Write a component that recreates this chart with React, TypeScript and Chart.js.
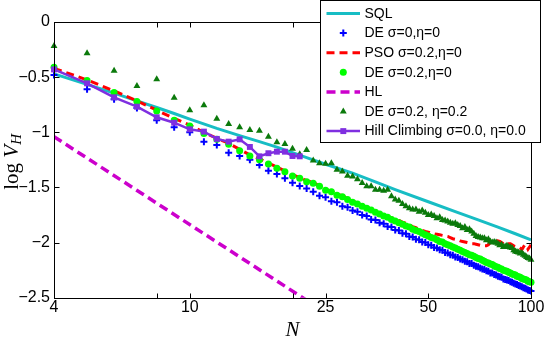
import { useEffect, useRef } from "react";
import { Chart, registerables } from "chart.js";

Chart.register(...registerables);

// ---------- data ----------
const nValues = [
  4, 5, 6, 7, 8, 9, 10, 11, 12, 13,
  14, 15, 16, 17, 18, 19, 20, 21, 22, 23,
  24, 25, 26, 27, 28, 29, 30, 31, 32, 33,
  34, 35, 36, 37, 38, 39, 40, 41, 42, 43,
  44, 45, 46, 47, 48, 49, 50, 51, 52, 53,
  54, 55, 56, 57, 58, 59, 60, 61, 62, 63,
  64, 65, 66, 67, 68, 69, 70, 71, 72, 73,
  74, 75, 76, 77, 78, 79, 80, 81, 82, 83,
  84, 85, 86, 87, 88, 89, 90, 91, 92, 93,
  94, 95, 96, 97, 98, 99, 100,
];

const sqlN = [4, 5, 6, 7, 8, 9, 10, 12, 14, 16, 18, 20, 22, 25, 30, 35, 40, 50, 60, 70, 80, 90, 100];
const sqlValues = [
  -0.47, -0.565, -0.645, -0.715, -0.775, -0.83, -0.88, -0.965, -1.03, -1.085, -1.135, -1.185,
  -1.23, -1.29, -1.37, -1.45, -1.52, -1.63, -1.72, -1.795, -1.86, -1.92, -1.975,
];

const deSigma0 = [
  -0.48, -0.61, -0.70, -0.78, -0.89, -0.955, -1.0, -1.085, -1.115, -1.185,
  -1.215, -1.25, -1.296, -1.348, -1.378, -1.417, -1.457, -1.487, -1.51, -1.54,
  -1.575, -1.59, -1.625, -1.635, -1.67, -1.68, -1.71, -1.72, -1.75, -1.76,
  -1.79, -1.795, -1.82, -1.83, -1.855, -1.86, -1.885, -1.89, -1.915, -1.92,
  -1.945, -1.95, -1.97, -1.975, -1.995, -2.0, -2.02, -2.025, -2.045, -2.05,
  -2.065, -2.07, -2.09, -2.095, -2.11, -2.115, -2.13, -2.135, -2.15, -2.155,
  -2.17, -2.175, -2.19, -2.19, -2.205, -2.215, -2.22, -2.23, -2.24, -2.245,
  -2.255, -2.26, -2.275, -2.275, -2.29, -2.295, -2.305, -2.31, -2.315, -2.33,
  -2.335, -2.34, -2.345, -2.355, -2.36, -2.37, -2.375, -2.38, -2.39, -2.395,
  -2.40, -2.41, -2.415, -2.42, -2.43, -2.435, -2.44,
];

const psoValues = [
  -0.42, -0.525, -0.625, -0.715, -0.80, -0.875, -0.935, -1.0, -1.055, -1.10,
  -1.155, -1.205, -1.24, -1.28, -1.315, -1.35, -1.385, -1.41, -1.44, -1.455,
  -1.485, -1.515, -1.535, -1.56, -1.575, -1.60, -1.625, -1.64, -1.66, -1.68,
  -1.695, -1.715, -1.735, -1.75, -1.765, -1.775, -1.79, -1.80, -1.815, -1.825,
  -1.84, -1.855, -1.865, -1.88, -1.89, -1.90, -1.905, -1.915, -1.92, -1.925,
  -1.93, -1.935, -1.94, -1.945, -1.955, -1.965, -1.97, -1.975, -1.985, -1.99,
  -1.995, -2.0, -2.005, -2.01, -2.01, -2.015, -2.02, -2.025, -2.03, -2.03,
  -2.03, -2.02, -2.0, -1.99, -1.985, -1.98, -1.985, -1.99, -2.0, -2.01,
  -2.02, -2.02, -2.01, -2.01, -2.02, -2.03, -2.035, -2.04, -2.04, -2.05,
  -2.065, -2.04, -2.02, -2.03, -2.06, -2.04, -2.02,
];

const deSigma02 = [
  -0.41, -0.53, -0.64, -0.72, -0.807, -0.89, -0.943, -1.01, -1.064, -1.109,
  -1.167, -1.215, -1.25, -1.287, -1.327, -1.357, -1.396, -1.417, -1.448, -1.463,
  -1.49, -1.525, -1.54, -1.57, -1.585, -1.61, -1.635, -1.65, -1.67, -1.69,
  -1.705, -1.725, -1.74, -1.76, -1.77, -1.79, -1.805, -1.82, -1.835, -1.85,
  -1.86, -1.88, -1.89, -1.90, -1.915, -1.93, -1.94, -1.955, -1.96, -1.975,
  -1.99, -1.995, -2.01, -2.02, -2.03, -2.04, -2.05, -2.06, -2.07, -2.08,
  -2.09, -2.10, -2.11, -2.115, -2.125, -2.135, -2.145, -2.15, -2.16, -2.17,
  -2.18, -2.185, -2.195, -2.20, -2.21, -2.22, -2.225, -2.235, -2.24, -2.25,
  -2.255, -2.26, -2.27, -2.275, -2.285, -2.29, -2.295, -2.305, -2.31, -2.315,
  -2.325, -2.33, -2.335, -2.34, -2.35, -2.355, -2.36,
];

const hlN = [4, 100];
const hlValues = [-1.04, -3.84];

const deSigma02Eta02 = [
  -0.218, -0.284, -0.441, -0.58, -0.52, -0.686, -0.80, -0.755, -0.877, -0.925,
  -0.955, -0.98, -0.985, -1.04, -1.09, -1.106, -1.15, -1.20, -1.16, -1.255,
  -1.28, -1.285, -1.28, -1.34, -1.355, -1.395, -1.40, -1.425, -1.46, -1.49,
  -1.49, -1.52, -1.52, -1.53, -1.52, -1.58, -1.61, -1.62, -1.65, -1.67,
  -1.69, -1.70, -1.70, -1.72, -1.71, -1.73, -1.75, -1.745, -1.76, -1.78,
  -1.77, -1.795, -1.80, -1.81, -1.82, -1.83, -1.825, -1.84, -1.85, -1.87,
  -1.86, -1.885, -1.88, -1.90, -1.92, -1.94, -1.95, -1.955, -1.96, -1.96,
  -1.98, -1.97, -1.99, -2.0, -1.995, -2.0, -2.01, -2.025, -2.02, -2.04,
  -2.035, -2.03, -2.04, -2.045, -2.05, -2.07, -2.08, -2.085, -2.09, -2.10,
  -2.095, -2.11, -2.12, -2.13, -2.14, -2.145, -2.155,
];

const hillClimbingN = [4, 5, 6, 7, 8, 9, 10, 11, 12, 13, 14, 15, 16, 17, 18, 19, 20, 21];
const hillClimbing = [
  -0.43, -0.556, -0.683, -0.768, -0.864, -0.913, -0.973, -0.994, -1.06, -1.085,
  -1.064, -1.133, -1.218, -1.19, -1.176, -1.176, -1.215, -1.218,
];

const xTickValues = [4, 8, 10, 20, 25, 50, 100];
const xTickLabels = ["4", "", "10", "", "25", "50", "100"];
const yTickValues = [-2.5, -2, -1.5, -1, -0.5, 0];
const yTickLabels = ["\u22122.5", "\u22122", "\u22121.5", "\u22121", "\u22120.5", "0"];

const seriesLabels = [
  "SQL",
  "DE \u03c3=0,\u03b7=0",
  "PSO \u03c3=0.2,\u03b7=0",
  "DE \u03c3=0.2,\u03b7=0",
  "HL",
  "DE \u03c3=0.2, \u03b7=0.2",
  "Hill Climbing \u03c3=0.0, \u03b7=0.0",
];

const SANS = '"Liberation Sans", Arial, Helvetica, sans-serif';
const SERIF = '"Liberation Serif", "DejaVu Serif", serif';

const toPoints = (xs: number[], ys: number[]) => ys.map((y, i) => ({ x: xs[i], y }));

function drawMarker(ctx: CanvasRenderingContext2D, style: string, x: number, y: number, r: number, color: string, bw: number) {
  ctx.save();
  ctx.fillStyle = color;
  ctx.strokeStyle = color;
  ctx.lineWidth = bw;
  ctx.setLineDash([]);
  ctx.beginPath();
  if (style === "cross") {
    ctx.moveTo(x - r, y);
    ctx.lineTo(x + r, y);
    ctx.moveTo(x, y - r);
    ctx.lineTo(x, y + r);
    ctx.stroke();
  } else if (style === "circle") {
    ctx.arc(x, y, r, 0, Math.PI * 2);
    ctx.fill();
  } else if (style === "triangle") {
    let a = 0;
    ctx.moveTo(x + Math.sin(a) * r, y - Math.cos(a) * r);
    a += (2 * Math.PI) / 3;
    ctx.lineTo(x + Math.sin(a) * r, y - Math.cos(a) * r);
    a += (2 * Math.PI) / 3;
    ctx.lineTo(x + Math.sin(a) * r, y - Math.cos(a) * r);
    ctx.closePath();
    ctx.fill();
  } else if (style === "rect") {
    const s = r * Math.SQRT1_2;
    ctx.rect(x - s, y - s, 2 * s, 2 * s);
    ctx.fill();
  }
  ctx.restore();
}

const framePlugin = {
  id: "frame",
  afterDraw(chart: any) {
    const ctx: CanvasRenderingContext2D = chart.ctx;
    const { left, right, top, bottom } = chart.chartArea;
    const xs = chart.scales.x;
    const ys = chart.scales.y;
    ctx.save();
    ctx.strokeStyle = "#000";
    ctx.lineWidth = 1;
    ctx.setLineDash([]);
    const L = Math.round(left) + 0.5;
    const R = Math.round(right) + 0.5;
    const T = Math.round(top) + 0.5;
    const B = Math.round(bottom) + 0.5;
    ctx.strokeRect(L, T, R - L, B - T);
    const tl = 5;
    ctx.beginPath();
    for (const t of xs.ticks) {
      const px = Math.round(xs.getPixelForValue(t.value)) + 0.5;
      ctx.moveTo(px, B);
      ctx.lineTo(px, B - tl);
      ctx.moveTo(px, T);
      ctx.lineTo(px, T + tl);
    }
    for (const t of ys.ticks) {
      const py = Math.round(ys.getPixelForValue(t.value)) + 0.5;
      ctx.moveTo(L, py);
      ctx.lineTo(L + tl, py);
      ctx.moveTo(R, py);
      ctx.lineTo(R - tl, py);
    }
    ctx.stroke();

    // axis titles
    ctx.fillStyle = "#000";
    ctx.textBaseline = "alphabetic";
    ctx.textAlign = "left";
    ctx.font = `21px ${SERIF}`;
    const wLog = ctx.measureText("log ").width;
    ctx.font = `italic 21px ${SERIF}`;
    const wV = ctx.measureText("V").width;
    ctx.font = `italic 15px ${SERIF}`;
    const wH = ctx.measureText("H").width;
    const total = wLog + wV + wH;
    ctx.save();
    ctx.translate(18, (top + bottom) / 2 + 2);
    ctx.rotate(-Math.PI / 2);
    const s0 = -total / 2;
    ctx.font = `21px ${SERIF}`;
    ctx.fillText("log", s0, 0);
    ctx.font = `italic 21px ${SERIF}`;
    ctx.fillText("V", s0 + wLog, 0);
    ctx.font = `italic 15px ${SERIF}`;
    ctx.fillText("H", s0 + wLog + wV, 3);
    ctx.restore();

    ctx.font = `italic 21px ${SERIF}`;
    ctx.textAlign = "center";
    ctx.fillText("N", (left + right) / 2, 336);

    // legend
    const bx = 320.5, by = 0.5, bw = 220, bh = 142;
    ctx.fillStyle = "#fff";
    ctx.fillRect(bx, by, bw, bh);
    ctx.strokeStyle = "#000";
    ctx.lineWidth = 1;
    ctx.strokeRect(bx, by, bw, bh);
    const rowY0 = 13.5;
    const rowStep = 19.6;
    const x0 = 326.5, x1 = 360, mx = 343.3, tx = 364.5;
    chart.data.datasets.forEach((ds: any, i: number) => {
      const yy = rowY0 + i * rowStep;
      if (ds.showLine) {
        ctx.save();
        ctx.strokeStyle = ds.borderColor;
        ctx.lineWidth = ds.borderWidth;
        ctx.setLineDash(ds.borderDash || []);
        ctx.beginPath();
        ctx.moveTo(x0, yy);
        ctx.lineTo(x1, yy);
        ctx.stroke();
        ctx.restore();
      }
      if (ds.pointRadius > 0) {
        drawMarker(ctx, ds.pointStyle, mx, yy, ds.pointRadius, ds.pointBackgroundColor || ds.borderColor, ds.pointBorderWidth || 1);
      }
      ctx.fillStyle = "#000";
      ctx.font = `14px ${SANS}`;
      ctx.textAlign = "left";
      ctx.textBaseline = "middle";
      ctx.fillText(seriesLabels[i], tx, yy + 0.5);
    });
    ctx.restore();
  },
};

export default function App() {
  const canvasRef = useRef<HTMLCanvasElement | null>(null);

  useEffect(() => {
    document.body.style.margin = "0";
    const canvas = canvasRef.current;
    if (!canvas) return;
    const chart = new Chart(canvas, {
      type: "line",
      data: {
        datasets: [
          {
            label: seriesLabels[0],
            data: toPoints(sqlN, sqlValues),
            borderColor: "#17bdc4",
            borderWidth: 3,
            pointRadius: 0,
            showLine: true,
            order: 7,
            clip: false,
          },
          {
            label: seriesLabels[1],
            data: toPoints(nValues, deSigma0),
            borderColor: "#0000ff",
            pointBackgroundColor: "#0000ff",
            pointBorderColor: "#0000ff",
            pointStyle: "cross",
            pointRadius: 3.5,
            pointBorderWidth: 2,
            showLine: false,
            order: 6,
            clip: false,
          },
          {
            label: seriesLabels[2],
            data: toPoints(nValues, psoValues),
            borderColor: "#ff0000",
            borderWidth: 3,
            borderDash: [8, 5],
            pointRadius: 0,
            showLine: true,
            order: 5,
            clip: false,
          },
          {
            label: seriesLabels[3],
            data: toPoints(nValues, deSigma02),
            borderColor: "#00ff00",
            pointBackgroundColor: "#00ff00",
            pointBorderColor: "#00ff00",
            pointStyle: "circle",
            pointRadius: 3.5,
            pointBorderWidth: 0,
            showLine: false,
            order: 4,
            clip: false,
          },
          {
            label: seriesLabels[4],
            data: toPoints(hlN, hlValues),
            borderColor: "#cc00cc",
            borderWidth: 3.5,
            borderDash: [9, 5],
            pointRadius: 0,
            showLine: true,
            order: 3,
          },
          {
            label: seriesLabels[5],
            data: toPoints(nValues, deSigma02Eta02),
            borderColor: "#0b7a0b",
            pointBackgroundColor: "#0b7a0b",
            pointBorderColor: "#0b7a0b",
            pointStyle: "triangle",
            pointRadius: 4,
            pointBorderWidth: 0,
            showLine: false,
            order: 2,
            clip: false,
          },
          {
            label: seriesLabels[6],
            data: toPoints(hillClimbingN, hillClimbing),
            borderColor: "#7f2fe0",
            borderWidth: 2.5,
            pointBackgroundColor: "#7f2fe0",
            pointBorderColor: "#7f2fe0",
            pointStyle: "rect",
            pointRadius: 4.2,
            pointBorderWidth: 0,
            showLine: true,
            order: 1,
            clip: false,
          },
        ] as any,
      },
      options: {
        animation: false,
        responsive: false,
        events: [],
        layout: { padding: { top: 22, right: 15, left: 0, bottom: 0 } },
        plugins: { legend: { display: false }, tooltip: { enabled: false } },
        elements: { line: { tension: 0 } },
        scales: {
          x: {
            type: "logarithmic",
            min: 4,
            max: 100,
            grid: { display: false, drawTicks: false },
            border: { display: false },
            afterBuildTicks: (scale: any) => {
              scale.ticks = xTickValues.map((v) => ({ value: v }));
            },
            afterFit: (scale: any) => {
              scale.height = 40.3;
            },
            ticks: {
              autoSkip: false,
              maxRotation: 0,
              minRotation: 0,
              padding: 0,
              color: "#000",
              font: { family: SANS, size: 16 },
              callback: (_v: any, i: number) => xTickLabels[i],
            },
          },
          y: {
            type: "linear",
            min: -2.5,
            max: 0,
            grid: { display: false, drawTicks: false },
            border: { display: false },
            afterBuildTicks: (scale: any) => {
              scale.ticks = yTickValues.map((v) => ({ value: v }));
            },
            afterFit: (scale: any) => {
              scale.width = 54;
            },
            ticks: {
              autoSkip: false,
              padding: 4,
              color: "#000",
              font: { family: SANS, size: 16 },
              callback: (_v: any, i: number) => yTickLabels[i],
            },
          },
        },
      } as any,
      plugins: [framePlugin],
    });
    return () => chart.destroy();
  }, []);

  return (
    <div style={{ width: 546, height: 338 }}>
      <canvas ref={canvasRef} width={546} height={338} style={{ display: "block" }} />
    </div>
  );
}
